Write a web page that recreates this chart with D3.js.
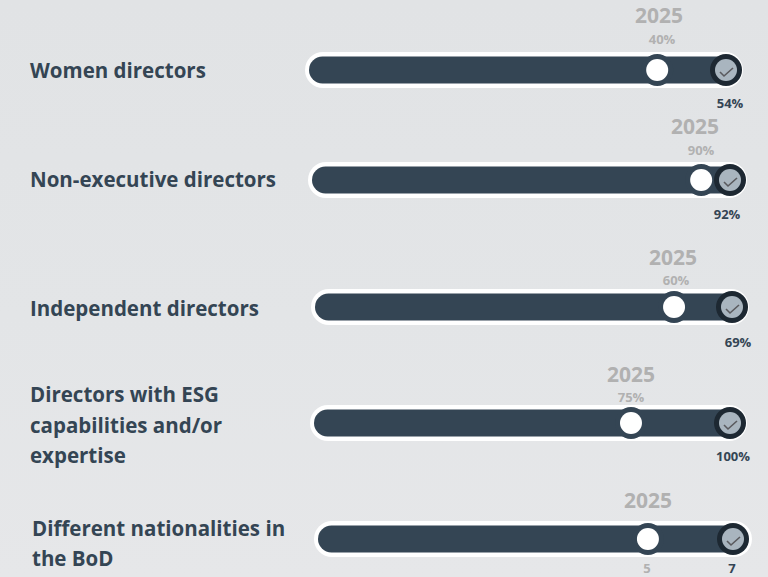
<!DOCTYPE html>
<html><head><meta charset="utf-8">
<script src="https://cdn.jsdelivr.net/npm/d3@7"></script>
<style>html,body{margin:0;padding:0;background:#e5e6e8}svg{display:block}text{font-family:"Open Sans",sans-serif}</style>
</head><body><svg id="c" width="768" height="577"></svg>
<script>
const categories=[["Women directors"],["Non-executive directors"],["Independent directors"],["Directors with ESG","capabilities and/or","expertise"],["Different nationalities in","the BoD"]];
const currentLabels=["40%","90%","60%","75%","5"];
const targetLabels=["54%","92%","69%","100%","7"];
const yearLabel="2025";
// share of each track reached by the current marker
const currentShare=[83.5,93.1,86.1,76.2,79.5];
const targetShare=[100,100,100,100,100];

const layout=[
 {x0:309,x1:726,y:70,whiteR:17,labelX:30,labelY:[77.5],yearX:659,yearY:23,curX:662,curY:44,tgtY:108,tgtX:730},
 {x0:312,x1:730,y:180,whiteR:17,labelX:30,labelY:[186.5],yearX:695,yearY:134,curX:701,curY:155,tgtY:219,tgtX:727},
 {x0:315,x1:732,y:307,whiteR:17,labelX:30,labelY:[315.5],yearX:673,yearY:265,curX:676,curY:285,tgtY:347,tgtX:738},
 {x0:314,x1:730,y:423,whiteR:17,labelX:30,labelY:[402,432.5,463],yearX:631,yearY:382,curX:631,curY:402,tgtY:461,tgtX:733},
 {x0:318,x1:733,y:539,whiteR:19,labelX:32,labelY:[535.5,566],yearX:648,yearY:508,curX:647,curY:573,tgtY:573,tgtX:732}
];
const svg=d3.select("#c");
const defs=svg.append("defs");
const g=defs.append("linearGradient").attr("id","bg").attr("x1",0).attr("y1",0).attr("x2",0).attr("y2",1);
g.append("stop").attr("offset","0%").attr("stop-color","#e1e3e5");
g.append("stop").attr("offset","55%").attr("stop-color","#e3e5e7");
g.append("stop").attr("offset","100%").attr("stop-color","#e6e7e9");
svg.append("rect").attr("width",768).attr("height",577).attr("fill","url(#bg)");

const dark="#344554",ink="#1d2832",grey="#b1b1b1";
categories.forEach((lines,i)=>{
  const L=layout[i];
  const x=d3.scaleLinear().domain([0,100]).range([L.x0,L.x1]);
  const row=svg.append("g");
  const lab=row.append("text").attr("fill",dark).attr("font-size",20.5).attr("font-weight",700);
  lines.forEach((t,j)=>lab.append("tspan").attr("x",L.labelX).attr("y",L.labelY[j]).text(t));
  // track
  const wl=x(0)-4, wr=x(100)+L.whiteR;
  row.append("rect").attr("x",wl).attr("y",L.y-18).attr("width",wr-wl).attr("height",36).attr("rx",18).attr("fill","#fff");
  row.append("rect").attr("x",x(0)).attr("y",L.y-13.5).attr("width",x(100)+13-x(0)).attr("height",27).attr("rx",13.5).attr("fill",dark);
  // current marker
  const cx=x(currentShare[i]);
  row.append("circle").attr("cx",cx).attr("cy",L.y).attr("r",16).attr("fill",dark);
  row.append("circle").attr("cx",cx).attr("cy",L.y).attr("r",11).attr("fill","#fff");
  // target marker
  const tx=x(targetShare[i]);
  row.append("circle").attr("cx",tx).attr("cy",L.y).attr("r",16).attr("fill",ink);
  row.append("circle").attr("cx",tx).attr("cy",L.y).attr("r",11).attr("fill","#a9b5bf");
  row.append("path").attr("d",`M${tx-6},${L.y+2}L${tx-2},${L.y+6}L${tx+7},${L.y-2}`).attr("fill","none").attr("stroke","#5a5a5e").attr("stroke-width",1.6);
  // labels
  row.append("text").attr("x",L.yearX).attr("y",L.yearY).attr("text-anchor","middle").attr("fill",grey).attr("font-size",21).attr("font-weight",700).text(yearLabel);
  row.append("text").attr("x",L.curX).attr("y",L.curY).attr("text-anchor","middle").attr("fill",grey).attr("font-size",13).attr("font-weight",700).text(currentLabels[i]);
  row.append("text").attr("x",L.tgtX).attr("y",L.tgtY).attr("text-anchor","middle").attr("fill",dark).attr("font-size",13).attr("font-weight",700).text(targetLabels[i]);
});
</script></body></html>
